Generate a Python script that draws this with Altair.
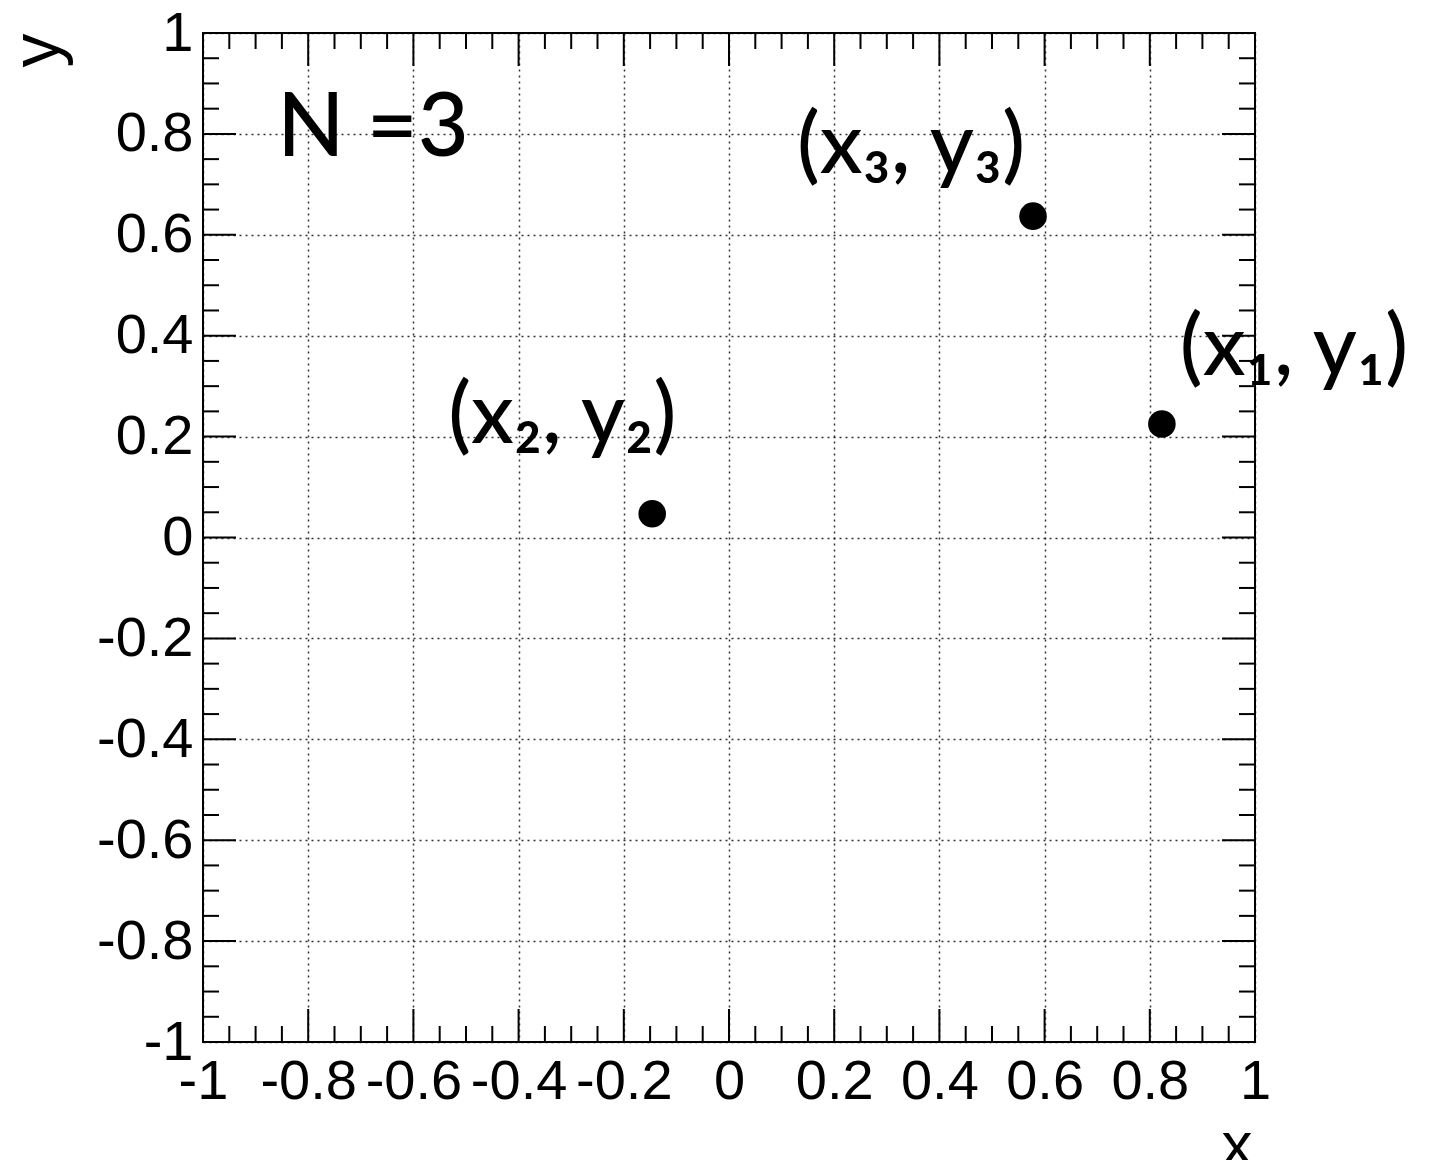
import altair as alt
import pandas as pd

# ---- data ----
point_x = [0.823, -0.146, 0.578]
point_y = [0.225, 0.047, 0.637]

label_text = ["(x₁, y₁)", "(x₂, y₂)", "(x₃, y₃)"]
label_x = [1.074, -0.317, 0.346]
label_y = [0.322, 0.187, 0.722]

note_text = ["N =3"]
note_x = [-0.859]
note_y = [0.756]

major_ticks = [-1, -0.8, -0.6, -0.4, -0.2, 0, 0.2, 0.4, 0.6, 0.8, 1]
minor_ticks = [-0.95, -0.9, -0.85, -0.75, -0.7, -0.65, -0.55, -0.5, -0.45,
               -0.35, -0.3, -0.25, -0.15, -0.1, -0.05, 0.05, 0.1, 0.15,
               0.25, 0.3, 0.35, 0.45, 0.5, 0.55, 0.65, 0.7, 0.75,
               0.85, 0.9, 0.95]

W, H = 1052, 1009
MAJOR_LEN, MINOR_LEN = 33, 16

label_expr = "datum.value < 0 ? '-' + format(-datum.value, '~g') : format(datum.value, '~g')"

xscale = alt.Scale(domain=[-1, 1], nice=False, zero=False)
yscale = alt.Scale(domain=[-1, 1], nice=False, zero=False)

common_axis = dict(
    values=major_ticks, grid=True, gridDash=[2, 4], gridColor="#000000",
    gridWidth=1.5, gridOpacity=0.8, ticks=False, tickSize=0, domain=False,
    labelFont="Liberation Sans", labelFontSize=56, labelColor="#000000",
    labelFlush=False, labelOverlap=False, labelExpr=label_expr,
    titleFont="Liberation Sans", titleFontWeight="normal", titleColor="#000000",
    titleBaseline="alphabetic", titleAlign="right",
)
xaxis = alt.Axis(labelPadding=12, title="x", titleFontSize=62,
                 titleX=1049, titleY=122, titleAngle=0, **common_axis)
yaxis = alt.Axis(labelPadding=10, title="y", titleFontSize=68,
                 titleX=-145, titleY=0, titleAngle=270, **common_axis)


def tick_layer(vals, length, side):
    df = pd.DataFrame({"v": vals})
    if side == "left":
        enc = dict(y=alt.Y("v:Q", scale=yscale, axis=yaxis),
                   x=alt.value(0), x2=alt.value(length))
    elif side == "right":
        enc = dict(y=alt.Y("v:Q", scale=yscale, axis=yaxis),
                   x=alt.value(W - length), x2=alt.value(W))
    elif side == "bottom":
        enc = dict(x=alt.X("v:Q", scale=xscale, axis=xaxis),
                   y=alt.value(H - length), y2=alt.value(H))
    else:
        enc = dict(x=alt.X("v:Q", scale=xscale, axis=xaxis),
                   y=alt.value(0), y2=alt.value(length))
    return alt.Chart(df).mark_rule(color="black", strokeWidth=2).encode(**enc)


ticks = []
for side in ["left", "right", "bottom", "top"]:
    ticks.append(tick_layer(major_ticks, MAJOR_LEN, side))
    ticks.append(tick_layer(minor_ticks, MINOR_LEN, side))

points_df = pd.DataFrame({"x": point_x, "y": point_y})
points = alt.Chart(points_df).mark_circle(size=760, color="black", opacity=1).encode(
    x=alt.X("x:Q", scale=xscale, axis=xaxis),
    y=alt.Y("y:Q", scale=yscale, axis=yaxis),
)

labels_df = pd.DataFrame({"x": label_x, "y": label_y, "t": label_text})
labels = alt.Chart(labels_df).mark_text(
    font="Lato", fontSize=85, fontWeight=500, color="black",
    align="center", baseline="alphabetic"
).encode(
    x=alt.X("x:Q", scale=xscale, axis=xaxis),
    y=alt.Y("y:Q", scale=yscale, axis=yaxis),
    text="t:N",
)

note_df = pd.DataFrame({"x": note_x, "y": note_y, "t": note_text})
note = alt.Chart(note_df).mark_text(
    font="Lato", fontSize=88, fontWeight=500, color="black",
    align="left", baseline="alphabetic"
).encode(
    x=alt.X("x:Q", scale=xscale, axis=xaxis),
    y=alt.Y("y:Q", scale=yscale, axis=yaxis),
    text="t:N",
)

chart = alt.layer(*ticks, points, labels, note).properties(
    width=W, height=H,
    autosize=alt.AutoSizeParams(type="none"),
    padding={"left": 195, "top": 25, "right": 172, "bottom": 118},
    background="white",
).configure_view(stroke="black", strokeWidth=2)

chart.save("out.html", embed_options={"renderer": "svg", "actions": False})
